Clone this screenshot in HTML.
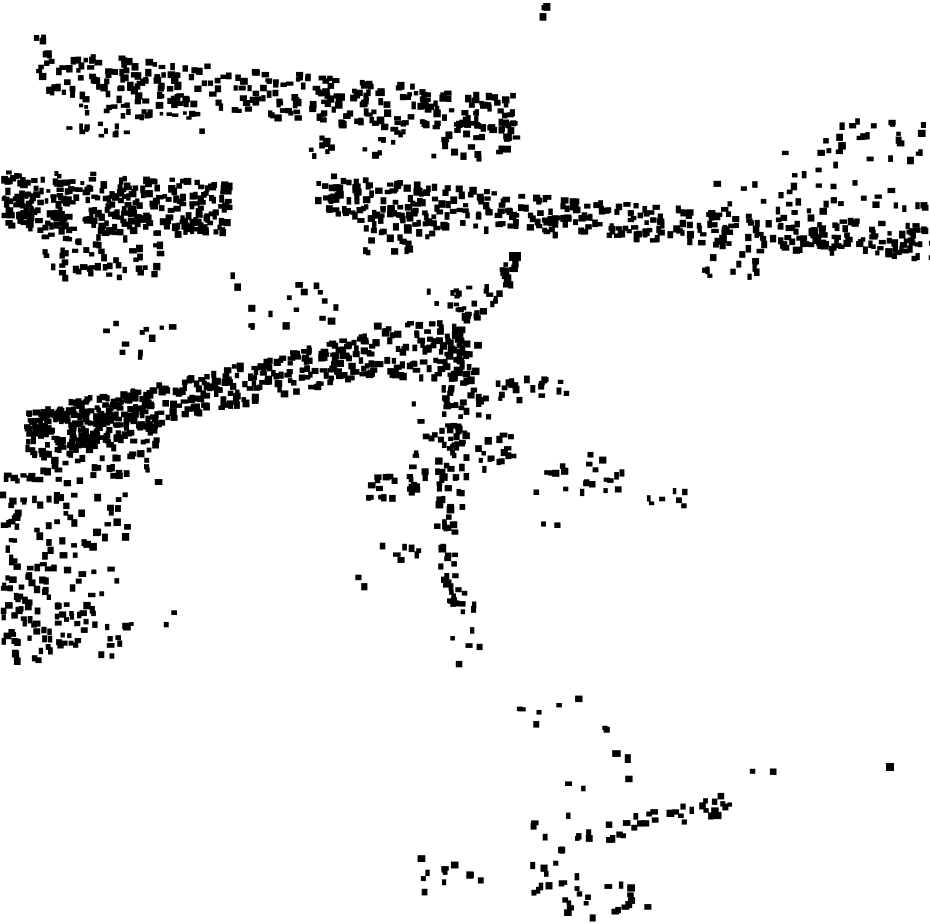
<!DOCTYPE html>
<html><head><meta charset="utf-8">
<style>html,body{margin:0;padding:0;background:#fff;width:930px;height:924px;overflow:hidden}svg{display:block}</style>
</head><body>
<svg id="s" width="930" height="924" xmlns="http://www.w3.org/2000/svg"></svg>
<script>
var seed=12345;function r(){seed=(seed*1103515245+12345)%2147483648;return seed/2147483648;}
var s=document.getElementById('s'),out='',F=0.6;
function rect(x,y,sz){var w=sz*(0.7+r()*0.6),h=sz*(0.7+r()*0.6);out+='<rect x="'+x.toFixed(1)+'" y="'+y.toFixed(1)+'" width="'+w.toFixed(1)+'" height="'+h.toFixed(1)+'"/>';}
function seg(x1,y1,x2,y2,wd,n,sz){n=Math.round(n*F);var dx=x2-x1,dy=y2-y1,L=Math.sqrt(dx*dx+dy*dy)||1,nx=-dy/L,ny=dx/L;
for(var i=0;i<n;i++){var t=r(),o=(r()-0.5)*wd;rect(x1+dx*t+nx*o,y1+dy*t+ny*o,sz||6);}}
function box(x,y,w,h,n,sz){n=Math.max(1,Math.round(n*F));for(var i=0;i<n;i++)rect(x+r()*w,y+r()*h,sz||6);}
seg(35,70,520,115,45,520,6);
box(300,120,210,35,80,6);box(60,100,140,35,60,5);
seg(530,15,550,5,10,5,6);box(15,28,30,15,5,6);
box(820,118,105,40,40,6);box(775,140,60,35,10,6);
seg(0,200,230,205,55,450,6);box(40,230,120,45,90,6);box(0,170,100,30,50,5);
seg(315,190,560,215,40,280,6);seg(560,215,930,240,35,380,6);
box(355,205,80,45,60,6);box(700,180,230,30,50,6);box(700,240,60,40,25,6);
seg(455,330,518,257,18,55,6);box(425,285,50,25,20,5);
box(230,268,110,60,28,6);box(100,320,70,35,18,6);
seg(25,435,370,350,40,600,6);seg(25,420,150,400,30,120,6);box(25,410,130,70,160,6);
box(365,320,100,55,150,6);
seg(460,335,445,520,30,120,6);seg(440,520,462,610,25,50,6);seg(380,550,440,540,20,15,6);
box(405,400,55,90,50,6);
box(0,470,35,190,90,6);box(35,490,90,170,130,6);box(0,560,70,80,60,6);box(120,610,65,15,5,5);
box(475,380,35,90,45,6);box(505,375,60,25,25,6);box(528,450,95,40,35,6);box(640,485,60,20,12,5);
box(365,472,50,25,28,6);box(340,555,25,30,4,6);box(450,620,45,45,8,6);
box(515,695,90,35,14,6);box(535,510,20,15,3,6);
seg(600,830,730,800,20,50,6);box(530,770,60,140,45,6);box(555,880,120,35,25,6);
box(400,845,90,45,20,6);box(605,745,25,40,5,7);box(745,762,25,20,4,6);
out+='<rect x="886" y="763" width="8" height="8"/>';out+='<rect x="509" y="252" width="12" height="9"/>';
s.innerHTML=out;
</script>
</body></html>
